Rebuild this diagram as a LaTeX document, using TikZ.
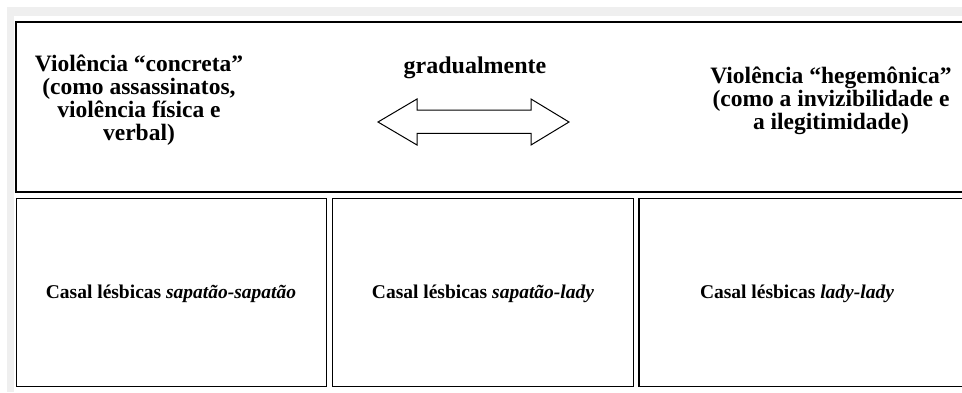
\documentclass[tikz,border=0pt]{standalone}
\usepackage{fontspec}
\setmainfont{Liberation Serif}
\definecolor{framegray}{HTML}{EFEFEF}
\begin{document}
\begin{tikzpicture}[x=1pt,y=-1pt,
  bigbox/.style={draw=black,line width=2pt},
  cellbox/.style={draw=black,line width=1.3pt},
  toptext/.style={font=\fontsize{23.5}{23}\selectfont\bfseries,align=center,inner sep=0pt},
  gradtext/.style={font=\fontsize{24}{24}\selectfont\bfseries,inner sep=0pt},
  celltext/.style={font=\fontsize{19.5}{22}\selectfont\bfseries,inner sep=0pt},
  arrowshape/.style={draw=black,line width=1pt,fill=white,line join=miter}]
\useasboundingbox (0,0) rectangle (962,392);
\clip (0,0) rectangle (962,392);
% gray frame
\fill[framegray] (7,7) rectangle (962,16);
\fill[framegray] (7,7) rectangle (14,392);
% boxes
\draw[bigbox] (15.7,21.7) rectangle (980,191.7);
\draw[cellbox] (16.3,198.7) rectangle (326.7,386.7);
\draw[cellbox] (332.7,198.7) rectangle (633.7,386.7);
\draw[cellbox] (639,198.7) rectangle (980,386.7);
% top texts
\node[toptext] (conc) at (139,100) {Violência “concreta”\\(como assassinatos,\\violência física e\\verbal)};
\node[gradtext,anchor=base] (grad) at (475,73) {gradualmente};
\node[toptext] (hege) at (831,101) {Violência “hegemônica”\\(como a invizibilidade e\\a ilegitimidade)};
% double arrow
\draw[arrowshape] (378,122) -- (417,99) -- (417,110) -- (531,110) -- (531,99) -- (569,122)
  -- (531,145) -- (531,133.3) -- (417,133.3) -- (417,145) -- cycle;
% bottom texts
\node[celltext,anchor=base] (c1) at (171,298) {Casal lésbicas \textit{sapatão-sapatão}};
\node[celltext,anchor=base] (c2) at (483,298) {Casal lésbicas \textit{sapatão-lady}};
\node[celltext,anchor=base] (c3) at (797,298) {Casal lésbicas \textit{lady-lady}};
\end{tikzpicture}
\end{document}
